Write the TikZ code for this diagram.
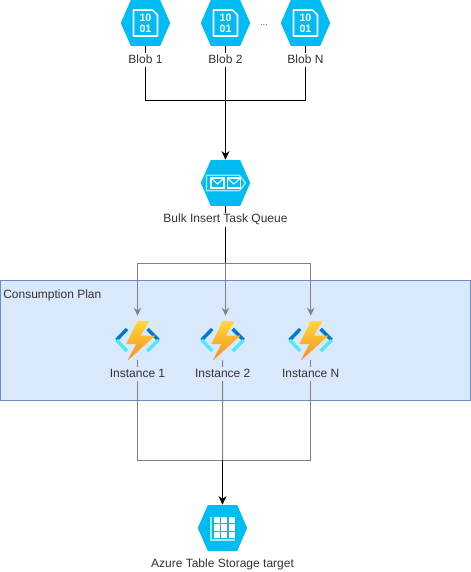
\documentclass[tikz,border=0pt]{standalone}
\usepackage{fontspec}
\setmainfont{Liberation Sans}
\usepackage{tikz}
\usetikzlibrary{positioning,arrows.meta}
\definecolor{azurehex}{RGB}{0,188,242}
\definecolor{azureline}{RGB}{156,235,255}
\definecolor{plandark}{RGB}{108,142,191}
\definecolor{planlight}{RGB}{218,232,252}
\definecolor{funcdark}{RGB}{0,120,212}
\definecolor{funclight}{RGB}{80,230,255}
\definecolor{bolttop}{RGB}{254,216,60}
\definecolor{boltmid}{RGB}{255,190,30}
\definecolor{boltlow}{RGB}{247,141,30}
\definecolor{labeltext}{RGB}{51,51,51}
\definecolor{wiregrey}{RGB}{130,130,130}
\tikzset{
    hexa/.pic={
        \fill[azurehex] (-24.7,0) -- (-14.7,-22.9) -- (14.7,-22.9) -- (24.7,0)
            -- (14.7,22.9) -- (-14.7,22.9) -- cycle;
    },
    blobglyph/.pic={
        \pic {hexa};
        \draw[white, line width=1.2pt, line join=round] (-12,-13) -- (7,-13) -- (12,-8) -- (12,13)
            -- (-12,13) -- cycle;
        \node[digits] (one) at (0,-5) {10};
        \node[digits] (two) at (0,5.5) {01};
    },
    queueglyph/.pic={
        \pic {hexa};
        \draw[azureline, line width=1pt] (-19,-7.7) -- (14,-7.7) -- (20,0) -- (14,7.7)
            -- (-19,7.7) -- cycle;
        \draw[white, line width=0.9pt] (-14.5,-5) rectangle (-1.5,5);
        \draw[white, line width=0.9pt] (1.7,-5) rectangle (15,5);
        \draw[white, line width=0.8pt] (-14.5,-5) -- (-8,1) -- (-1.5,-5);
        \draw[white, line width=0.8pt] (1.7,-5) -- (8.3,1) -- (15,-5);
    },
    tableglyph/.pic={
        \pic {hexa};
        \draw[azureline, line width=1pt] (-11.5,-11.5) -- (-11.5,12) -- (12.5,12);
        \fill[white] (-9,-11.3) rectangle (-2.8,-5.1);
        \fill[white] (-1.3,-11.3) rectangle (4.9,-5.1);
        \fill[white] (6.4,-11.3) rectangle (12.6,-5.1);
        \fill[white] (-9,-3.6) rectangle (-2.8,2.6);
        \fill[white] (-1.3,-3.6) rectangle (4.9,2.6);
        \fill[white] (6.4,-3.6) rectangle (12.6,2.6);
        \fill[white] (-9,4.1) rectangle (-2.8,10.3);
        \fill[white] (-1.3,4.1) rectangle (4.9,10.3);
        \fill[white] (6.4,4.1) rectangle (12.6,10.3);
    },
    funcglyph/.pic={
        \draw[funcdark, line width=2.6pt] (-10.5,-11) -- (-21,0);
        \draw[funclight, line width=2.6pt] (-21,0) -- (-10.5,11);
        \draw[funcdark, line width=2.6pt] (10,-11) -- (21,0);
        \draw[funclight, line width=2.6pt] (21,0) -- (10,11);
        \shade[top color=bolttop, middle color=boltmid, bottom color=boltlow] (0,-19) -- (11.7,-19) -- (3.3,-4.3)
            -- (17.7,-4.3) -- (-10,20.7) -- (-1.3,4) -- (-11.3,4) -- cycle;
    }
}
\begin{document}
\begin{tikzpicture}[
    x=0.75pt, y=-0.75pt,
    hexnode/.style={inner sep=0pt, minimum width=37pt, minimum height=34.5pt},
    funcnode/.style={inner sep=0pt, minimum width=34pt, minimum height=30pt},
    tag/.style={inner sep=0pt, minimum height=10.5pt, fill=white, text=labeltext,
        font=\fontsize{9}{10.5}\selectfont},
    digits/.style={inner sep=0pt, text=white, font=\bfseries\fontsize{8}{8}\selectfont},
    wire/.style={line width=0.75pt, black},
    wirearrow/.style={wire, -{Stealth[length=6.5pt,width=6pt]}},
    greywire/.style={line width=0.75pt, wiregrey},
    greyarrow/.style={greywire, shorten >=3pt, -{Stealth[length=6pt,width=5.5pt]}}
]
    \useasboundingbox (0,0) rectangle (471,572);

    % plan behind everything
    \draw[plandark, fill=planlight, line width=0.75pt] (0,280.5) rectangle (470.5,400.5);
    \node[inner sep=0pt, anchor=west, text=labeltext, font=\fontsize{9}{10.5}\selectfont] (plan) at (3,295) {Consumption Plan};

    \node[hexnode] (blob1) at (145.5,23) {};
    \node[hexnode] (blob2) at (225.5,23) {};
    \node[hexnode] (blobn) at (305.5,23) {};
    \node[hexnode] (queue) at (225.5,183) {};
    \node[funcnode] (inst1) at (137.5,340) {};
    \node[funcnode] (inst2) at (222.7,340) {};
    \node[funcnode] (instn) at (310.7,340) {};
    \node[hexnode] (table) at (222.5,528) {};

    \coordinate (topjoin) at (225.5,100);
    \coordinate (split) at (225.5,263);
    \coordinate (lowjoin) at (222.5,460);

    \draw[wire] (blob1) |- (topjoin);
    \draw[wire] (blobn) |- (topjoin);
    \draw[wirearrow] (blob2) -- (queue);

    \draw[wire] (queue) -- (split);
    \draw[greyarrow] (split) -| (inst1.north);
    \draw[greyarrow] (split) -- (split |- inst2.north);
    \draw[greyarrow] (split) -| (instn.north);

    \draw[greywire] (inst1) |- (lowjoin);
    \draw[greywire] (instn) |- (lowjoin);
    \draw[greywire] (inst2) -- (lowjoin);
    \draw[wirearrow] (lowjoin) -- (table);

    \pic at (blob1) {blobglyph};
    \pic at (blob2) {blobglyph};
    \pic at (blobn) {blobglyph};
    \pic at (queue) {queueglyph};
    \pic at (inst1) {funcglyph};
    \pic at (inst2) {funcglyph};
    \pic at (instn) {funcglyph};
    \pic at (table) {tableglyph};

    \node[tag, below=4.5pt of blob1] (blob1tag) {Blob 1};
    \node[tag, below=4.5pt of blob2] (blob2tag) {Blob 2};
    \node[tag, below=4.5pt of blobn] (blobntag) {Blob N};
    \node[tag, right=7pt of blob2, yshift=-1.5pt, text=black!60, font=\fontsize{7}{8}\selectfont] (dots) {...};
    \node[tag, below=4.5pt of queue] (queuetag) {Bulk Insert Task Queue};
    \node[tag, below=4.5pt of inst1, fill=planlight] (inst1tag) {Instance 1};
    \node[tag, below=4.5pt of inst2, fill=planlight] (inst2tag) {Instance 2};
    \node[tag, below=4.5pt of instn, fill=planlight] (instntag) {Instance N};
    \node[tag, below=4.5pt of table] (tabletag) {Azure Table Storage target};
\end{tikzpicture}
\end{document}
